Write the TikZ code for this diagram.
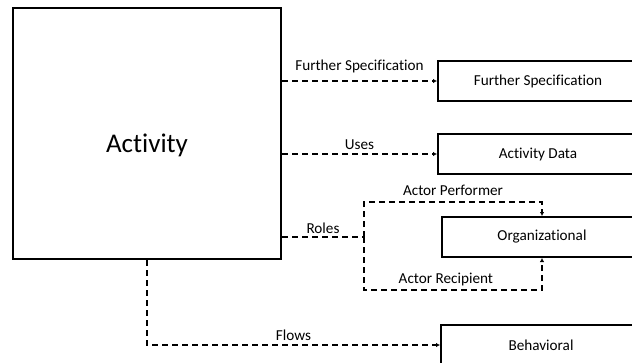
\documentclass[tikz,border=0pt]{standalone}
\usepackage{fontspec}
\setmainfont{Carlito}[Ligatures = NoCommon]
\usetikzlibrary{positioning}
\usetikzlibrary{arrows.meta}
\usetikzlibrary{calc}

\tikzset{
	box/.style = {draw, black, line width = 2pt, minimum width = 200pt, minimum height = 40pt, font = \fontsize{15.2}{17}\selectfont},
	link/.style = {black, line width = 1.5pt, dash pattern = on 6pt off 4pt, -{Latex[length = 4pt, width = 4.5pt]}},
	tag/.style = {font = \fontsize{15.2}{17}\selectfont, inner sep = 1pt}
}

\begin{document}
\begin{tikzpicture}[x = 1pt, y = -1pt]
							\clip (0, 0) rectangle (632, 362);
							\node [draw, black, line width = 2pt, minimum width = 268pt, minimum height = 251pt] (act) at (147, 133.5) {};
							\node [font = \fontsize{27}{32}\selectfont] (actlabel) at (147, 145) {Activity};
							\node [box] (fs) at (538, 81) {Further Specification};
							\node [box] (data) at (538, 154) {Activity Data};
							\node [box] (org) at (542, 237) {Organizational};
							\node [box] (beh) at (541, 345) {Behavioral};
							\coordinate (fork) at (364, 237);
							\draw [link] (act.east |- fs) -- (fs.west) node [tag, midway, above = 6pt] {Further Specification};
							\draw [link] (act.east |- data) -- (data.west) node [tag, midway, above = 3pt] {Uses};
							\draw [link, -] (act.east |- fork) -- (fork) node [tag, midway, above = 2pt] {Roles};
							\draw [link] (fork) |- ($(org.north) + (0, -14)$) node [tag, pos = 0.75, above = 5pt] {Actor Performer} -- (org.north);
							\draw [link] (fork) |- ($(org.south) + (0, 32)$) node [tag, pos = 0.73, above = 2pt] {Actor Recipient} -- (org.south);
							\draw [link] (act.south) |- (beh.west) node [tag, pos = 0.75, above = 3pt] {Flows};
						\end{tikzpicture}
\end{document}
